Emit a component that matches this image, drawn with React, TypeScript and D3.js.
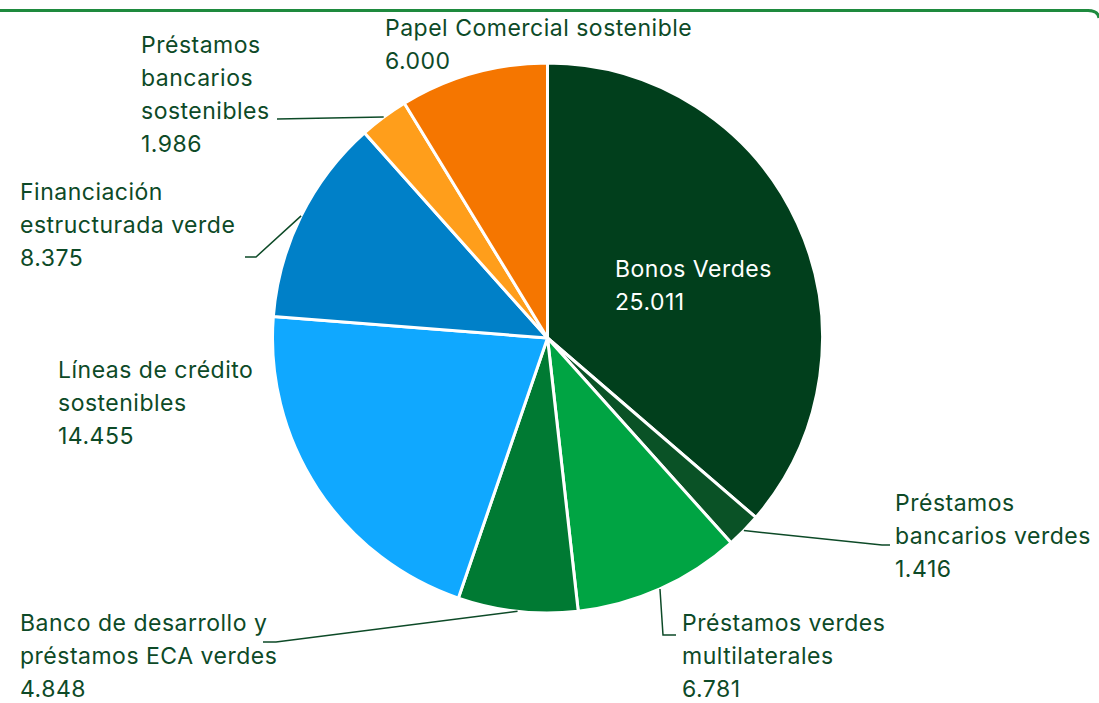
import React from "react";
import * as d3 from "d3";

const categories: string[][] = [
  ["Bonos Verdes"],
  ["Préstamos", "bancarios verdes"],
  ["Préstamos verdes", "multilaterales"],
  ["Banco de desarrollo y", "préstamos ECA verdes"],
  ["Líneas de crédito", "sostenibles"],
  ["Financiación", "estructurada verde"],
  ["Préstamos", "bancarios", "sostenibles"],
  ["Papel Comercial sostenible"],
];
const values: number[] = [25011, 1416, 6781, 4848, 14455, 8375, 1986, 6000];
const valueLabels: string[] = ["25.011", "1.416", "6.781", "4.848", "14.455", "8.375", "1.986", "6.000"];
const colors: string[] = ["#013f1c", "#0a5226", "#00a443", "#007a33", "#10a8ff", "#0080c8", "#ff9e1b", "#f57600"];

// layout (positions of labels and leader elbows)
const labelPos: [number, number][] = [
  [615, 277], [895, 511], [682, 631], [20, 631], [58, 378], [20, 200], [141, 53], [385, 36],
];
const leaderPts: ([number, number][] | null)[] = [
  null,
  [[882, 545], [890, 545]],
  [[663, 635], [676, 635]],
  [[276, 642], [263, 642]],
  null,
  [[256, 257], [245, 257]],
  [[277, 119]],
  null,
];

export default function App() {
  const W = 1099, H = 703;
  const cx = 547.5, cy = 338, r = 275;
  const pie = d3.pie<number>().sort(null).value((d) => d)(values);
  const arc = d3.arc<d3.PieArcDatum<number>>().innerRadius(0).outerRadius(r);
  const lineH = 33;
  const textColor = "#0d4a27";
  return (
    <svg width={W} height={H} style={{ position: "absolute", left: 0, top: 0, background: "#fff" }}
      fontFamily="Inter, 'Noto Sans', sans-serif">
      <path d="M -5 10.5 H 1088 Q 1098 10.5 1099 18" fill="none" stroke="#1e8a3e" strokeWidth={3} />
      <g transform={`translate(${cx},${cy})`}>
        {pie.map((p, i) => (
          <path key={i} d={arc(p) || ""} fill={colors[i]} stroke="#fff" strokeWidth={3} strokeLinejoin="round" />
        ))}
      </g>
      {pie.map((p, i) => {
        const pts = leaderPts[i];
        if (!pts) return null;
        const mid = (p.startAngle + p.endAngle) / 2;
        const sx = cx + r * Math.sin(mid);
        const sy = cy - r * Math.cos(mid);
        const all = [[sx, sy] as [number, number], ...pts];
        return <path key={"l" + i} d={d3.line()(all) || ""} fill="none" stroke={textColor} strokeWidth={1.5} />;
      })}
      {categories.map((lines, i) => {
        const [x, y] = labelPos[i];
        const all = [...lines, valueLabels[i]];
        return (
          <text key={"t" + i} x={x} y={y} fontSize={23} letterSpacing={0.5} fill={i === 0 ? "#ffffff" : textColor}>
            {all.map((s, j) => (
              <tspan key={j} x={x} y={y + j * lineH}>{s}</tspan>
            ))}
          </text>
        );
      })}
    </svg>
  );
}
